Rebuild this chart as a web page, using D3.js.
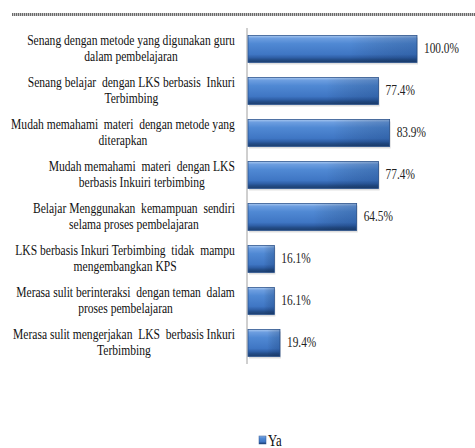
<!DOCTYPE html>
<html><head><meta charset="utf-8">
<script src="https://cdn.jsdelivr.net/npm/d3@7"></script>
<style>body{margin:0;background:#fff}svg{display:block}</style>
</head><body>
<script>
const categories = [
  ["Senang dengan metode yang digunakan guru","dalam pembelajaran"],
  ["Senang belajar  dengan LKS berbasis  Inkuri","Terbimbing"],
  ["Mudah memahami  materi  dengan metode yang","diterapkan"],
  ["Mudah memahami  materi  dengan LKS","berbasis Inkuiri terbimbing"],
  ["Belajar Menggunakan  kemampuan  sendiri","selama proses pembelajaran"],
  ["LKS berbasis Inkuri Terbimbing  tidak  mampu","mengembangkan KPS"],
  ["Merasa sulit berinteraksi  dengan teman  dalam","proses pembelajaran"],
  ["Merasa sulit mengerjakan  LKS  berbasis Inkuri","Terbimbing"]
];
const values = [100.0, 77.4, 83.9, 77.4, 64.5, 16.1, 16.1, 19.4];
const seriesName = "Ya";

const W = 475, H = 448;
const FONT = "Liberation Serif";
const svg = d3.select("body").append("svg").attr("width", W).attr("height", H);
const defs = svg.append("defs");
const g = defs.append("linearGradient").attr("id","barg").attr("x1",0).attr("y1",0).attr("x2",0).attr("y2",1);
[[0,"#a9c8f0"],[0.1,"#6d9ee0"],[0.3,"#5089d4"],[0.7,"#3f76c4"],[0.82,"#2f5fa6"],[0.9,"#234c86"],[1,"#1d3e6e"]]
  .forEach(([o,c])=>g.append("stop").attr("offset",o).attr("stop-color",c));
const gr = defs.append("linearGradient").attr("id","barr").attr("x1",0).attr("y1",0).attr("x2",1).attr("y2",0);
[[0,"#000",0],[0.6,"#000",0],[1,"#0a2a5a",0.45]].forEach(([o,c,a])=>gr.append("stop").attr("offset",o).attr("stop-color",c).attr("stop-opacity",a));
const pat = defs.append("pattern").attr("id","dotp").attr("patternUnits","userSpaceOnUse").attr("width",2).attr("height",3);
pat.append("rect").attr("x",0).attr("y",0).attr("width",1).attr("height",3).attr("fill","#6a6a6a");
pat.append("rect").attr("x",1).attr("y",0).attr("width",1).attr("height",3).attr("fill","#c4c4c4");

// top dotted rule
svg.append("rect").attr("x",12).attr("y",13).attr("width",W-12).attr("height",3).attr("fill","url(#dotp)");

const x = d3.scaleLinear().domain([0,100]).range([247,417]);
const y = d3.scaleBand().domain(d3.range(categories.length)).range([28,364]).paddingInner(0.36).paddingOuter(0.18);

svg.append("line").attr("x1",247).attr("x2",247).attr("y1",28).attr("y2",364)
  .attr("stroke","#a0a0a0").attr("stroke-width",1);

const bars = svg.append("g");
values.forEach((v,i)=>{
  const bx = x(0)+1, bw = x(v)-x(0)-1, by = y(i), bh = y.bandwidth();
  bars.append("rect").attr("x",bx+1).attr("y",by+2).attr("width",bw).attr("height",bh).attr("fill","#c8c8c8").attr("opacity",0.6);
  bars.append("rect").attr("x",bx).attr("y",by).attr("width",bw).attr("height",bh).attr("fill","url(#barg)")
    .attr("stroke","#2d5590").attr("stroke-width",0.8);
  bars.append("rect").attr("x",bx).attr("y",by).attr("width",bw).attr("height",bh).attr("fill","url(#barr)").attr("opacity",0.5);
  const lx = x(v)+7;
  svg.append("text").attr("x",0).attr("y",by+bh/2+4.5).attr("font-family",FONT).attr("font-size",14)
    .attr("fill","#222").attr("transform",`translate(${lx},0) scale(0.81,1)`).text(v.toFixed(1)+"%");
});

// category labels: block right-aligned at 235, lines centred
const FS = 14;
let sx = 1;
categories.forEach((lines,i)=>{
  const cy = y(i)+y.bandwidth()/2;
  const t = svg.append("text").attr("font-family",FONT).attr("font-size",FS).attr("fill","#111")
    .attr("text-anchor","middle").attr("xml:space","preserve");
  const spans = lines.map((l,k)=>t.append("tspan").attr("x",0).attr("y",cy-4+16*k).text(l));
  if (i===0) sx = 208 / spans[0].node().getComputedTextLength();
  const maxw = d3.max(spans, s=>s.node().getComputedTextLength())*sx;
  const c = 235 - maxw/2;
  t.attr("transform",`translate(${c},0) scale(${sx},1)`);
});

// legend
const lg = svg.append("g");
lg.append("rect").attr("x",259).attr("y",436).attr("width",7).attr("height",8).attr("fill","url(#barg)").attr("stroke","#2d5590").attr("stroke-width",0.5);
lg.append("text").attr("x",0).attr("y",446).attr("font-family",FONT).attr("font-size",16).attr("fill","#111")
  .attr("transform","translate(268,0) scale(0.8,1)").text(seriesName);
</script>
</body></html>
